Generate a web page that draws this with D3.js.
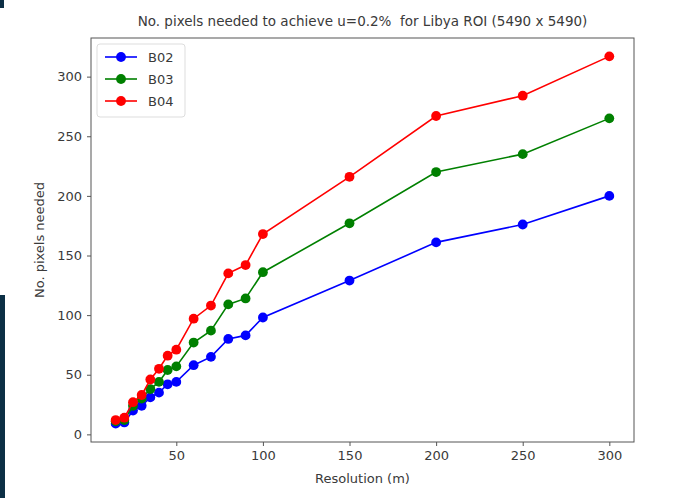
<!DOCTYPE html>
<html>
<head>
<meta charset="utf-8">
<script src="https://cdn.jsdelivr.net/npm/d3@7"></script>
<style>
  body { margin: 0; background: #fff; }
  svg text { font-family: "DejaVu Sans", sans-serif; fill: #3a3a3a; white-space: pre; }
</style>
</head>
<body>
<script>
// values
const resolution = [15, 20, 25, 30, 35, 40, 45, 50, 60, 70, 80, 90, 100, 150, 200, 250, 300];
const b02 = [9, 10, 20, 24, 31, 35, 42, 44, 58, 65, 80, 83, 98, 129, 161, 176, 200];
const b03 = [11, 12, 24, 30, 38, 44, 54, 57, 77, 87, 109, 114, 136, 177, 220, 235, 265];
const b04 = [12, 14, 27, 33, 46, 55, 66, 71, 97, 108, 135, 142, 168, 216, 267, 284, 317];
const bandNames = ['B02', 'B03', 'B04'];
const bandColors = ['#0000ff', '#008000', '#ff0000'];
const xTicks = [50, 100, 150, 200, 250, 300];
const yTicks = [0, 50, 100, 150, 200, 250, 300];

const width = 694, height = 498;
const margin = { top: 38, right: 60, bottom: 56, left: 91 };

const svg = d3.select('body')
  .append('svg')
  .attr('width', width)
  .attr('height', height);

// dark strip at left edge (part of the screenshot)
svg.append('rect').attr('x', 0).attr('y', 295).attr('width', 5).attr('height', height - 295).attr('fill', '#0c2f45');
svg.append('rect').attr('x', 0).attr('y', 0).attr('width', 4).attr('height', 8).attr('fill', '#0c2f45');

const series = [b02, b03, b04].map((vals, i) => ({
  name: bandNames[i],
  color: bandColors[i],
  points: vals.map((v, j) => ({ x: resolution[j], y: v }))
}));

// matplotlib style 5% margins
const pad = ([a, b]) => [a - (b - a) * 0.05, b + (b - a) * 0.05];
const allY = [...b02, ...b03, ...b04];

const x = d3.scaleLinear()
  .domain(pad(d3.extent(resolution)))
  .range([margin.left, width - margin.right]);

const y = d3.scaleLinear()
  .domain(pad(d3.extent(allY)))
  .range([height - margin.bottom, margin.top]);

const xAxis = d3.axisBottom(x).tickValues(xTicks).tickSize(4).tickPadding(5);
const yAxis = d3.axisLeft(y).tickValues(yTicks).tickSize(4).tickPadding(5);

const gx = svg.append('g')
  .attr('transform', `translate(0, ${height - margin.bottom})`)
  .call(xAxis);
const gy = svg.append('g')
  .attr('transform', `translate(${margin.left}, 0)`)
  .call(yAxis);

[gx, gy].forEach(g => {
  g.select('.domain').remove();
  g.selectAll('.tick line').attr('stroke', '#555');
  g.selectAll('.tick text').style('font-size', '13px').style('fill', '#3a3a3a');
});

const line = d3.line().x(d => x(d.x)).y(d => y(d.y));

series.forEach(s => {
  svg.append('path')
    .datum(s.points)
    .attr('fill', 'none')
    .attr('stroke', s.color)
    .attr('stroke-width', 1.6)
    .attr('d', line);
  svg.selectAll(null)
    .data(s.points)
    .enter()
    .append('circle')
    .attr('cx', d => x(d.x))
    .attr('cy', d => y(d.y))
    .attr('r', 4.9)
    .attr('fill', s.color);
});

// frame
svg.append('rect')
  .attr('x', margin.left)
  .attr('y', margin.top)
  .attr('width', width - margin.left - margin.right)
  .attr('height', height - margin.top - margin.bottom)
  .attr('fill', 'none')
  .attr('stroke', '#555')
  .attr('stroke-width', 1);

// title and labels
svg.append('text')
  .attr('x', (margin.left + width - margin.right) / 2)
  .attr('y', 26)
  .attr('text-anchor', 'middle')
  .style('font-size', '13.5px')
  .text('No. pixels needed to achieve u=0.2%  for Libya ROI (5490 x 5490)');

svg.append('text')
  .attr('x', (margin.left + width - margin.right) / 2)
  .attr('y', 483)
  .attr('text-anchor', 'middle')
  .style('font-size', '13px')
  .text('Resolution (m)');

svg.append('text')
  .attr('transform', `translate(44, ${(margin.top + height - margin.bottom) / 2}) rotate(-90)`)
  .attr('text-anchor', 'middle')
  .style('font-size', '13px')
  .text('No. pixels needed');

// legend
const legend = svg.append('g').attr('transform', 'translate(97, 44)');
legend.append('rect')
  .attr('width', 88).attr('height', 73).attr('rx', 3)
  .attr('fill', '#fff').attr('stroke', '#ddd');
series.forEach((s, i) => {
  const ly = 13 + i * 22;
  legend.append('line')
    .attr('x1', 8).attr('x2', 40).attr('y1', ly).attr('y2', ly)
    .attr('stroke', s.color).attr('stroke-width', 1.6);
  legend.append('circle').attr('cx', 24).attr('cy', ly).attr('r', 4.9).attr('fill', s.color);
  legend.append('text')
    .attr('x', 51).attr('y', ly + 4.5)
    .style('font-size', '13px')
    .text(s.name);
});
</script>
</body>
</html>
